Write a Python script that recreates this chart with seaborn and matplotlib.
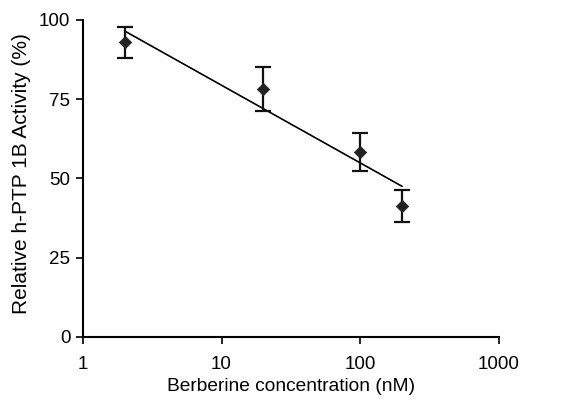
import numpy as np
import pandas as pd
import seaborn as sns
import matplotlib
matplotlib.use("Agg")
import matplotlib.pyplot as plt
from matplotlib.ticker import FixedLocator, NullLocator

# data
conc = [2, 20, 100, 200]
activity = [93.0, 78.2, 58.4, 41.4]
err = [4.9, 6.8, 6.0, 5.1]
fit_x = [2, 200]
fit_y = [96.5, 47.5]

sns.set_style("ticks")
plt.rcParams['font.family'] = ['Liberation Sans', 'DejaVu Sans']
plt.rcParams['axes.labelcolor'] = 'black'
plt.rcParams['text.color'] = 'black'

df = pd.DataFrame({'conc': conc, 'activity': activity})
fit = pd.DataFrame({'x': fit_x, 'y': fit_y})

fig = plt.figure(figsize=(5.83, 4.05), dpi=100)
ax = fig.add_axes([0.142, 0.168, 0.714, 0.783])

sns.lineplot(data=fit, x='x', y='y', ax=ax, color='black', linewidth=1.2)
ax.errorbar(conc, activity, yerr=err, fmt='none', ecolor='#111111',
            elinewidth=1.6, capsize=5.5, capthick=1.6)
sns.scatterplot(data=df, x='conc', y='activity', ax=ax, marker='D', s=40,
                color='#222222', edgecolor='#222222', zorder=3)

ax.set_xscale('log')
ax.set_xlim(1, 1000)
ax.set_ylim(0, 100)
ax.xaxis.set_major_locator(FixedLocator([1, 10, 100, 1000]))
ax.xaxis.set_minor_locator(NullLocator())
ax.set_xticklabels(['1', '10', '100', '1000'])
ax.set_yticks([0, 25, 50, 75, 100])

for s in ['top', 'right']:
    ax.spines[s].set_visible(False)
for s in ['left', 'bottom']:
    ax.spines[s].set_linewidth(1.5)
    ax.spines[s].set_color('black')
ax.tick_params(axis='both', direction='out', length=5, width=1.2,
               labelsize=13.5, colors='black')
ax.tick_params(axis='x', pad=9)
ax.tick_params(axis='y', pad=4)

ax.set_xlabel('Berberine concentration (nM)', fontsize=13.8, labelpad=3, color='black')
ax.set_ylabel('Relative h-PTP 1B Activity (%)', fontsize=15, color='black')
ax.yaxis.set_label_coords(-0.125, 0.514)

fig.savefig('out.png', dpi=100)
